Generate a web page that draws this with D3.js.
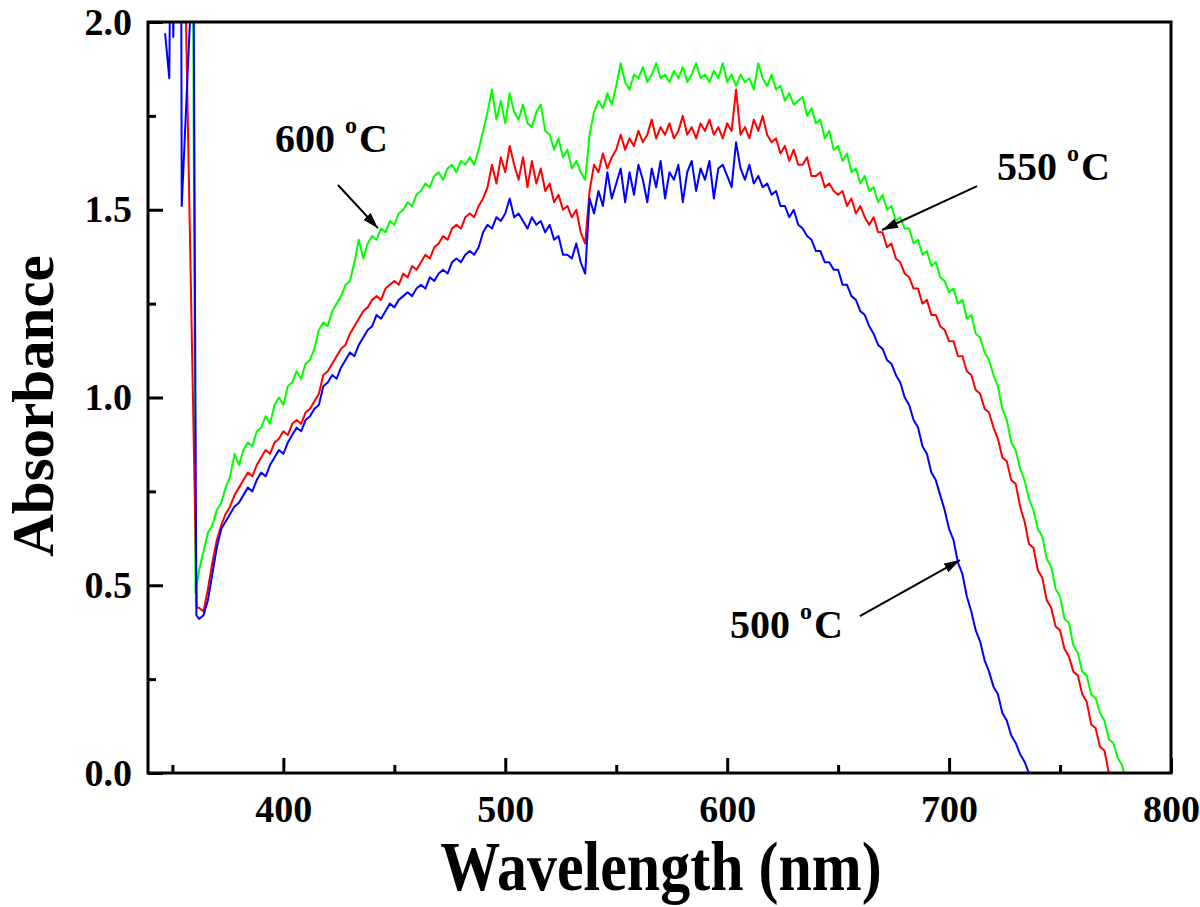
<!DOCTYPE html>
<html><head><meta charset="utf-8">
<script src="https://cdn.jsdelivr.net/npm/d3@7"></script>
<style>
html,body{margin:0;padding:0;background:#fff;}
svg{display:block;}
text{font-family:"Liberation Serif","Times New Roman",serif;font-weight:bold;fill:#000;}
</style></head>
<body>
<svg id="chart" width="1200" height="907"></svg>
<script>
// ---------- data ----------
const xMajorTicks = [400, 500, 600, 700, 800];
const xMinorTicks = [350, 450, 550, 650, 750];
const yMajorTicks = [0.0, 0.5, 1.0, 1.5, 2.0];
const yMinorTicks = [0.25, 0.75, 1.25, 1.75];
const xTitle = "Wavelength (nm)";
const yTitle = "Absorbance";

// common sampling grid (nm) for the main part of each spectrum
const gridStart = 362, gridStep = 2;

// lead-in points near the absorption edge (nm, absorbance)
const blueLeadWl  = [346.7, 348.6, 349.0, 350.0, 350.4, 350.8, 353.9, 354.2, 357.9, 359.2, 360.8];
const blueLeadAbs = [1.97, 1.85, 2.15, 2.15, 1.96, 2.15, 2.3, 1.51, 2.0, 2.6, 0.42];
const redLeadWl   = [355.5, 361.0];
const redLeadAbs  = [2.2, 0.44];
const greenLeadWl = [359.0, 360.4];
const greenLeadAbs= [2.6, 0.48];

// 600 °C (green), from 362 nm in 2 nm steps
const green600 = [
 0.54,0.59,0.64,0.66,0.70,0.72,0.76,0.79,0.85,0.82,
 0.86,0.88,0.87,0.91,0.92,0.95,0.93,0.98,1.00,0.98,
 1.03,1.04,1.07,1.05,1.09,1.10,1.13,1.18,1.20,1.19,
 1.23,1.25,1.27,1.30,1.31,1.36,1.42,1.37,1.41,1.43,
 1.42,1.45,1.44,1.47,1.46,1.49,1.50,1.52,1.51,1.54,
 1.55,1.57,1.56,1.59,1.60,1.58,1.61,1.62,1.60,1.63,
 1.62,1.64,1.62,1.66,1.71,1.76,1.82,1.74,1.79,1.73,
 1.81,1.76,1.74,1.78,1.73,1.72,1.76,1.78,1.71,1.70,
 1.66,1.69,1.64,1.66,1.61,1.63,1.60,1.58,1.70,1.76,
 1.79,1.77,1.81,1.78,1.83,1.89,1.84,1.82,1.86,1.85,
 1.88,1.84,1.86,1.89,1.85,1.86,1.84,1.87,1.85,1.88,
 1.84,1.86,1.89,1.85,1.86,1.84,1.87,1.85,1.89,1.84,
 1.86,1.83,1.86,1.84,1.85,1.82,1.89,1.85,1.83,1.86,
 1.82,1.83,1.79,1.81,1.78,1.79,1.80,1.75,1.77,1.73,
 1.74,1.69,1.71,1.66,1.67,1.63,1.65,1.60,1.61,1.57,
 1.59,1.55,1.56,1.52,1.54,1.50,1.51,1.47,1.48,1.45,
 1.45,1.41,1.42,1.38,1.39,1.35,1.36,1.32,1.31,1.28,
 1.29,1.25,1.26,1.21,1.22,1.17,1.16,1.12,1.10,1.06,
 1.03,0.97,0.94,0.88,0.86,0.81,0.78,0.73,0.70,0.65,
 0.63,0.57,0.55,0.49,0.47,0.41,0.40,0.34,0.32,0.27,
 0.26,0.21,0.20,0.16,0.14,0.09,0.08,0.04,0.02,-0.03
];

// 550 °C (red)
const red550 = [
 0.44,0.43,0.49,0.56,0.62,0.66,0.69,0.71,0.74,0.76,
 0.78,0.80,0.79,0.82,0.84,0.86,0.85,0.88,0.89,0.91,
 0.90,0.93,0.94,0.93,0.96,0.97,0.99,1.01,1.06,1.07,
 1.09,1.11,1.13,1.14,1.17,1.19,1.21,1.23,1.24,1.26,
 1.27,1.26,1.29,1.30,1.31,1.30,1.33,1.32,1.35,1.34,
 1.36,1.38,1.37,1.40,1.41,1.43,1.42,1.45,1.46,1.45,
 1.48,1.49,1.48,1.51,1.53,1.56,1.62,1.57,1.64,1.60,
 1.67,1.62,1.58,1.64,1.56,1.63,1.57,1.61,1.55,1.57,
 1.52,1.54,1.50,1.51,1.48,1.50,1.44,1.41,1.55,1.62,
 1.60,1.65,1.61,1.64,1.66,1.70,1.66,1.69,1.67,1.71,
 1.68,1.70,1.74,1.69,1.72,1.70,1.73,1.69,1.71,1.75,
 1.70,1.72,1.69,1.73,1.71,1.74,1.70,1.72,1.69,1.73,
 1.71,1.82,1.70,1.72,1.69,1.74,1.71,1.75,1.70,1.68,
 1.69,1.65,1.67,1.63,1.66,1.62,1.62,1.64,1.59,1.59,
 1.60,1.56,1.57,1.55,1.54,1.55,1.51,1.53,1.49,1.51,
 1.48,1.46,1.48,1.44,1.44,1.40,1.41,1.37,1.36,1.33,
 1.32,1.29,1.29,1.25,1.26,1.22,1.22,1.19,1.18,1.15,
 1.15,1.11,1.11,1.07,1.06,1.02,1.01,0.97,0.96,0.92,
 0.89,0.84,0.83,0.78,0.77,0.71,0.67,0.61,0.60,0.54,
 0.52,0.46,0.44,0.39,0.38,0.33,0.31,0.27,0.26,0.21,
 0.19,0.13,0.12,0.07,0.06,0.00,-0.04
];

// 500 °C (blue)
const blue500 = [
 0.41,0.42,0.46,0.53,0.60,0.65,0.67,0.69,0.71,0.72,
 0.74,0.76,0.75,0.78,0.80,0.79,0.82,0.84,0.86,0.85,
 0.88,0.90,0.92,0.91,0.94,0.95,0.97,0.98,1.03,1.04,
 1.06,1.05,1.08,1.10,1.12,1.11,1.14,1.16,1.18,1.19,
 1.22,1.21,1.23,1.25,1.24,1.26,1.27,1.28,1.27,1.29,
 1.30,1.29,1.32,1.31,1.33,1.34,1.33,1.36,1.37,1.36,
 1.38,1.39,1.38,1.40,1.44,1.46,1.45,1.48,1.47,1.49,
 1.53,1.48,1.49,1.47,1.45,1.48,1.46,1.47,1.44,1.46,
 1.42,1.43,1.38,1.38,1.37,1.41,1.36,1.33,1.53,1.49,
 1.55,1.51,1.60,1.53,1.57,1.61,1.52,1.60,1.54,1.62,
 1.58,1.52,1.61,1.56,1.63,1.53,1.60,1.58,1.62,1.52,
 1.60,1.63,1.55,1.61,1.58,1.63,1.53,1.61,1.62,1.59,
 1.56,1.68,1.61,1.58,1.62,1.57,1.59,1.56,1.57,1.54,
 1.55,1.51,1.51,1.48,1.50,1.46,1.45,1.43,1.42,1.39,
 1.39,1.36,1.36,1.34,1.34,1.30,1.30,1.27,1.26,1.23,
 1.22,1.19,1.17,1.14,1.13,1.10,1.09,1.06,1.04,1.00,
 0.98,0.94,0.92,0.87,0.85,0.80,0.78,0.74,0.70,0.65,
 0.62,0.56,0.53,0.47,0.43,0.38,0.35,0.30,0.27,0.23,
 0.21,0.16,0.14,0.10,0.08,0.05,0.03,0.00,-0.03
];

const series = [
  {name:"600", color:"#00ff00", leadWl:greenLeadWl, leadAbs:greenLeadAbs, vals:green600},
  {name:"550", color:"#ff0000", leadWl:redLeadWl,   leadAbs:redLeadAbs,   vals:red550},
  {name:"500", color:"#0000ff", leadWl:blueLeadWl,  leadAbs:blueLeadAbs,  vals:blue500}
];

// annotations: label, text position, arrow start, arrow tip (all in data units)
const annotations = [
  {num:"600", tx:[396.2, 1.654], from:[424.6, 1.566], to:[442.6, 1.451]},
  {num:"550", tx:[721.6, 1.579], from:[712.6, 1.563], to:[669.8, 1.446]},
  {num:"500", tx:[601.3, 0.360], from:[659.8, 0.418], to:[704.9, 0.567]}
];

// ---------- layout ----------
const W = 1200, H = 907;
const m = {left:148, top:22, right:29, bottom:134};
const pw = W - m.left - m.right, ph = H - m.top - m.bottom;

const svg = d3.select("#chart");
const x = d3.scaleLinear().domain([339, 800]).range([m.left, m.left + pw]);
const y = d3.scaleLinear().domain([0, 2.0]).range([m.top + ph, m.top]);

svg.append("defs").append("clipPath").attr("id","plotclip")
  .append("rect").attr("x", m.left).attr("y", m.top).attr("width", pw).attr("height", ph);

const marker = svg.select("defs").append("marker")
  .attr("id","arrow").attr("viewBox","0 0 16 10").attr("refX",16).attr("refY",5)
  .attr("markerUnits","userSpaceOnUse").attr("markerWidth",16).attr("markerHeight",10)
  .attr("orient","auto");
marker.append("path").attr("d","M0,0 L16,5 L0,10 Z").attr("fill","#000");

// lines
const line = d3.line().x(d => x(d[0])).y(d => y(d[1]));
const gLines = svg.append("g").attr("clip-path","url(#plotclip)");
series.forEach(s => {
  const pts = s.leadWl.map((w,i) => [w, s.leadAbs[i]])
    .concat(s.vals.map((v,i) => [gridStart + i*gridStep, v]));
  gLines.append("path").datum(pts)
    .attr("d", line).attr("fill","none").attr("stroke", s.color)
    .attr("stroke-width", 2).attr("stroke-linejoin","round");
});

// axes
const fontTick = 38;
const xAxis = svg.append("g").attr("transform", `translate(0,${m.top+ph})`)
  .call(d3.axisBottom(x).tickValues(xMajorTicks).tickSize(-15).tickPadding(22).tickFormat(d3.format("d")));
const xAxisMinor = svg.append("g").attr("transform", `translate(0,${m.top+ph})`)
  .call(d3.axisBottom(x).tickValues(xMinorTicks).tickSize(-8).tickFormat(""));
const yAxis = svg.append("g").attr("transform", `translate(${m.left},0)`)
  .call(d3.axisLeft(y).tickValues(yMajorTicks).tickSize(-15).tickPadding(16).tickFormat(d3.format(".1f")));
const yAxisMinor = svg.append("g").attr("transform", `translate(${m.left},0)`)
  .call(d3.axisLeft(y).tickValues(yMinorTicks).tickSize(-8).tickFormat(""));
[xAxis, xAxisMinor, yAxis, yAxisMinor].forEach(g => {
  g.select(".domain").remove();
  g.selectAll(".tick line").attr("stroke","#000").attr("stroke-width",3);
  g.selectAll(".tick text").attr("font-size", fontTick)
    .attr("font-family","'Liberation Serif','Times New Roman',serif").attr("font-weight","bold").attr("fill","#000");
});

// frame
svg.append("rect").attr("x", m.left).attr("y", m.top).attr("width", pw).attr("height", ph)
  .attr("fill","none").attr("stroke","#000").attr("stroke-width",3);

// axis titles
svg.append("text").attr("transform","translate(661,890) scale(1,1.18)").attr("text-anchor","middle")
  .attr("font-size", 60).text(xTitle);
svg.append("text").attr("transform","translate(53,406) rotate(-90)").attr("text-anchor","middle")
  .attr("font-size", 59).text(yTitle);

// annotations
annotations.forEach(a => {
  const t = svg.append("text").attr("x", x(a.tx[0])).attr("y", y(a.tx[1])).attr("font-size", 40);
  t.append("tspan").text(a.num + " ");
  t.append("tspan").attr("font-size", 24).attr("dy", -19).text("o");
  t.append("tspan").attr("font-size", 40).attr("dy", 19).attr("dx", 2).text("C");
  svg.append("line")
    .attr("x1", x(a.from[0])).attr("y1", y(a.from[1]))
    .attr("x2", x(a.to[0])).attr("y2", y(a.to[1]))
    .attr("stroke","#000").attr("stroke-width",2).attr("marker-end","url(#arrow)");
});
</script>
</body></html>
